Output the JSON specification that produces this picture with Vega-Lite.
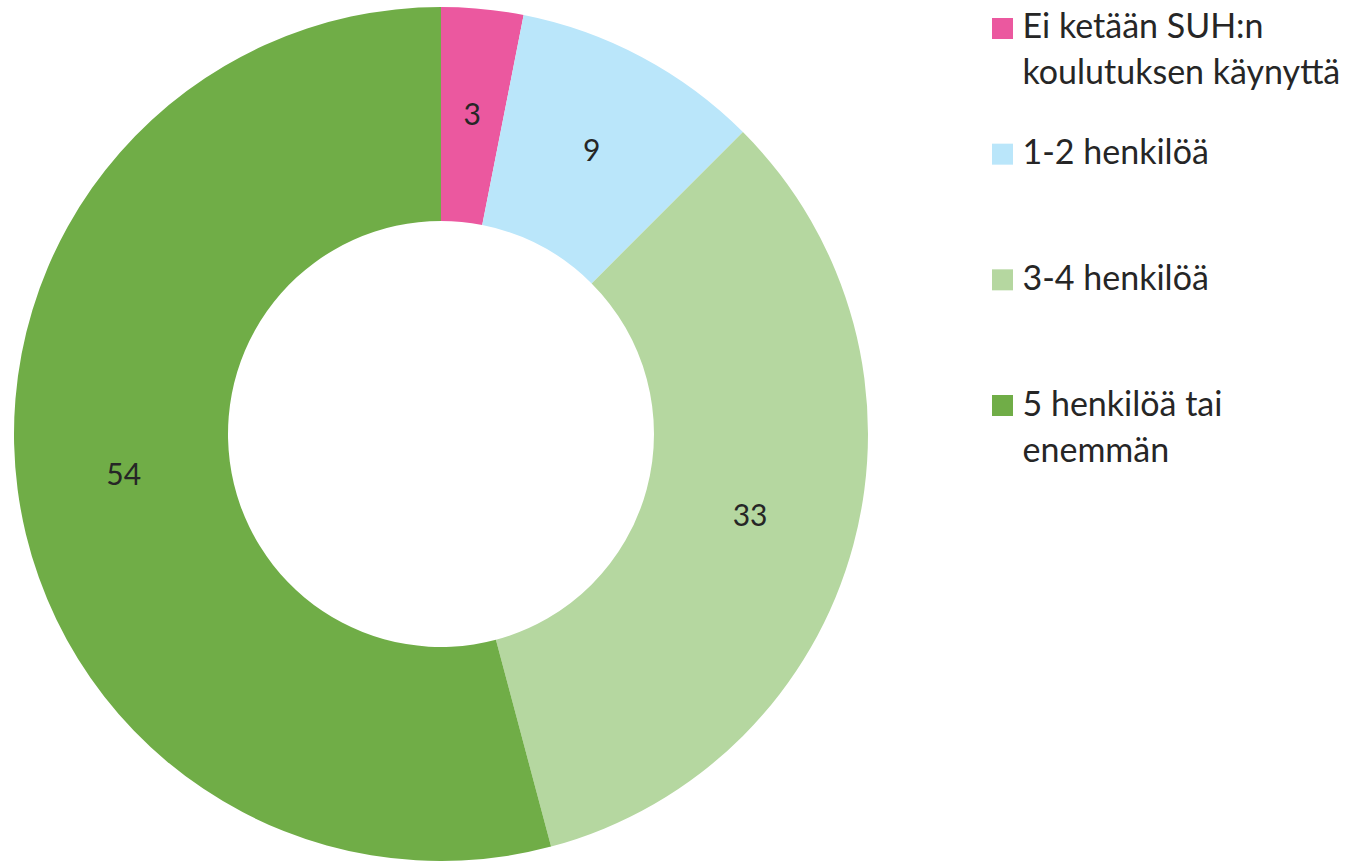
{
  "$schema": "https://vega.github.io/schema/vega-lite/v6.json",
  "padding": {"top": 7, "left": 0, "right": 0, "bottom": 0},
  "background": "white",
  "spacing": 0,
  "config": {"view": {"stroke": null}},
  "data": {
    "values": [
      {"category": "Ei ketään SUH:n\nkoulutuksen käynyttä", "value": 3.1},
      {"category": "1-2 henkilöä", "value": 9.4},
      {"category": "3-4 henkilöä", "value": 33.35},
      {"category": "5 henkilöä tai\nenemmän", "value": 54.15}
    ]
  },
  "hconcat": [
    {
      "width": 882,
      "height": 854,
      "layer": [
        {
          "mark": {"type": "arc", "innerRadius": 213, "outerRadius": 427},
          "encoding": {
            "theta": {"field": "value", "type": "quantitative", "stack": true},
            "order": {"field": "value", "type": "quantitative", "sort": "ascending"},
            "color": {
              "field": "category",
              "type": "nominal",
              "legend": null,
              "scale": {
                "domain": ["Ei ketään SUH:n\nkoulutuksen käynyttä", "1-2 henkilöä", "3-4 henkilöä", "5 henkilöä tai\nenemmän"],
                "range": ["#EB589F", "#BAE6FA", "#B5D7A0", "#70AD47"]
              }
            }
          }
        },
        {
          "mark": {"type": "text", "radius": 320, "font": "Lato", "fontSize": 30, "color": "#262626", "align": "center", "baseline": "middle"},
          "encoding": {
            "theta": {"field": "value", "type": "quantitative", "stack": true},
            "order": {"field": "value", "type": "quantitative", "sort": "ascending"},
            "text": {"field": "value", "type": "quantitative", "format": ".0f"}
          }
        }
      ]
    },
    {
      "width": 241,
      "height": 420,
      "layer": [
        {
          "mark": {"type": "point", "shape": "square", "filled": true, "size": 441, "opacity": 1},
          "encoding": {
            "y": {
              "field": "category",
              "type": "nominal",
              "axis": null,
              "sort": ["Ei ketään SUH:n\nkoulutuksen käynyttä", "1-2 henkilöä", "3-4 henkilöä", "5 henkilöä tai\nenemmän"],
              "scale": {"type": "point", "padding": 0.171}
            },
            "color": {
              "field": "category",
              "type": "nominal",
              "legend": null,
              "scale": {
                "domain": ["Ei ketään SUH:n\nkoulutuksen käynyttä", "1-2 henkilöä", "3-4 henkilöä", "5 henkilöä tai\nenemmän"],
                "range": ["#EB589F", "#BAE6FA", "#B5D7A0", "#70AD47"]
              }
            }
          }
        },
        {
          "mark": {"type": "text", "font": "Lato", "fontSize": 34, "color": "#262626", "align": "left", "baseline": "alphabetic", "dx": 20, "dy": 10, "lineBreak": "\n", "lineHeight": 46},
          "encoding": {
            "y": {
              "field": "category",
              "type": "nominal",
              "axis": null,
              "sort": ["Ei ketään SUH:n\nkoulutuksen käynyttä", "1-2 henkilöä", "3-4 henkilöä", "5 henkilöä tai\nenemmän"],
              "scale": {"type": "point", "padding": 0.171}
            },
            "text": {"field": "category", "type": "nominal"}
          }
        }
      ]
    }
  ]
}
